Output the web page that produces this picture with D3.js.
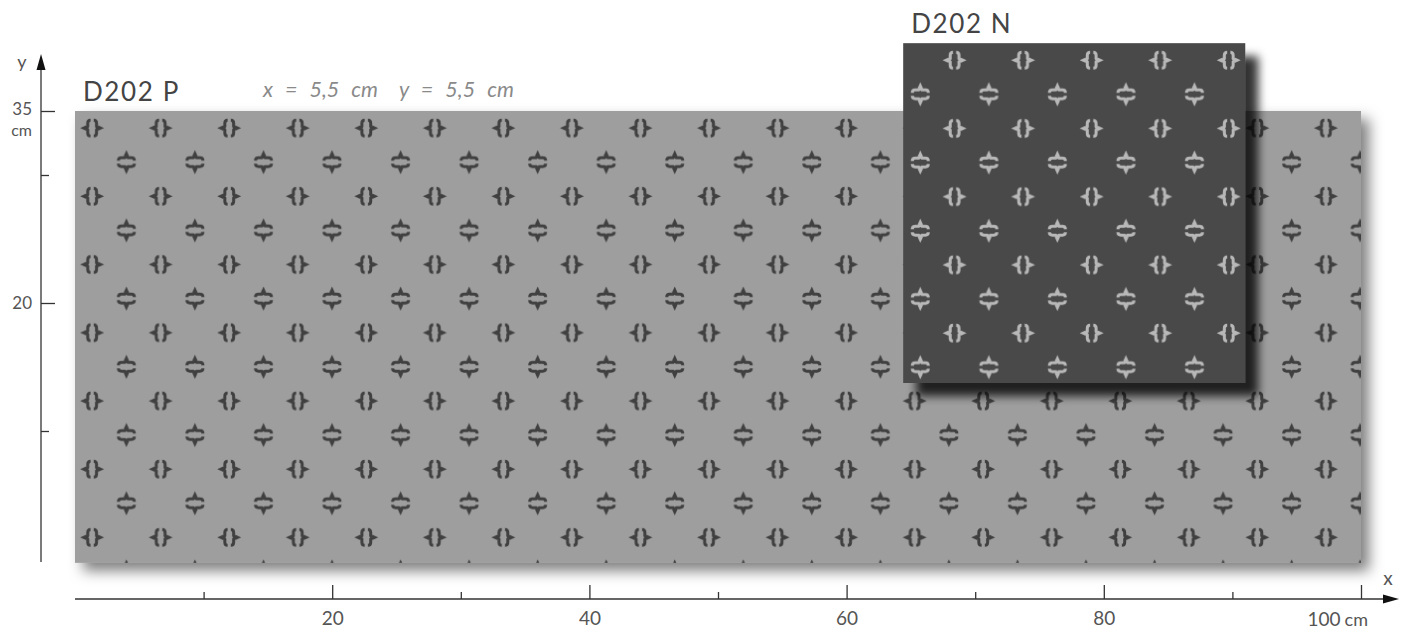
<!DOCTYPE html>
<html><head><meta charset="utf-8">
<script src="https://cdn.jsdelivr.net/npm/d3@7"></script>
<style>html,body{margin:0;padding:0;background:#fff;} svg{display:block;}</style>
</head><body>
<svg id="chart" width="1407" height="633"></svg>
<script>
// ---------------- data (cm) ----------------
const panelNames = ["D202 P", "D202 N"];
const panelX0 = [0, 64.4];
const panelX1 = [100, 91.0];
const panelY0 = [-0.3, 13.75];
const panelY1 = [35, 40.3];
const motifPhaseX = [0, 0.5];          // horizontal phase of motif grid (fraction of repeat)
const repeatX = 5.33, repeatY = 5.33;  // motif repeat as measured on the picture
const repeatLabels = ["x = 5,5 cm", "y = 5,5 cm"];
const xTicksMajor = [20, 40, 60, 80, 100];
const xTicksMinor = [10, 30, 50, 70, 90];
const yTicksMajor = [35, 20];
const yTicksMinor = [30, 10];

// ---------------- setup ----------------
const svg = d3.select("#chart");
const x = d3.scaleLinear().domain([0, 100]).range([75, 1361]);
const y = d3.scaleLinear().domain([0, 35]).range([559, 111]);

const panelFill = ["#9e9e9e", "#4a4a4a"];
const motifFill = ["#414141", "#b8b8b8"];
const shadow = [{dx: 8, dy: 8, sd: 7, op: 0.5}, {dx: 13, dy: 13, sd: 5, op: 0.8}];

const defs = svg.append("defs");
defs.append("filter").attr("id", "soft").attr("x", "-30%").attr("y", "-30%").attr("width", "160%").attr("height", "160%")
  .append("feGaussianBlur").attr("stdDeviation", 0.55);
shadow.forEach((s, i) => {
  defs.append("filter").attr("id", "shadow" + i)
    .attr("x", "-10%").attr("y", "-10%").attr("width", "130%").attr("height", "130%")
    .append("feDropShadow").attr("dx", s.dx).attr("dy", s.dy).attr("stdDeviation", s.sd)
    .attr("flood-color", "#000").attr("flood-opacity", s.op);
});

// motif: "◂{ }▸" ; second motif is the same rotated 90°
const bracePath = "M-1.6,-8 Q-4.4,-8 -4.4,-5 L-4.4,-1.6 L-6.2,0 L-4.4,1.6 L-4.4,5 Q-4.4,8 -1.6,8";
function drawMotif(g, cx, cy, rot, color) {
  const m = g.append("g").attr("transform", `translate(${cx},${cy}) rotate(${rot})`);
  m.append("path").attr("d", bracePath).attr("fill", "none").attr("stroke", color).attr("stroke-width", 3);
  m.append("path").attr("d", bracePath).attr("transform", "scale(-1,1)").attr("fill", "none").attr("stroke", color).attr("stroke-width", 3);
  m.append("path").attr("d", "M-12,0 L-6,-2.8 L-6,2.8Z").attr("fill", color);
  m.append("path").attr("d", "M12,0 L6,-2.8 L6,2.8Z").attr("fill", color);
}

panelNames.forEach((name, i) => {
  const pw = x(repeatX) - x(0), ph = y(0) - y(repeatY);
  const pat = defs.append("pattern").attr("id", "pat" + i).attr("patternUnits", "userSpaceOnUse")
    .attr("x", x(panelX0[i])).attr("y", y(panelY1[i])).attr("width", pw).attr("height", ph);
  pat.append("rect").attr("width", pw).attr("height", ph).attr("fill", panelFill[i]);
  const g = pat.append("g").attr("filter", "url(#soft)");
  const ph0 = motifPhaseX[i];
  drawMotif(g, ((0.25 + ph0) % 1) * pw, 0.25 * ph, 0, motifFill[i]);
  drawMotif(g, ((0.75 + ph0) % 1) * pw, 0.75 * ph, 90, motifFill[i]);
});

// ---------------- panels ----------------
const idx = panelNames.map((d, i) => i);
svg.selectAll("rect.panel").data(idx).join("rect").attr("class", "panel")
  .attr("x", i => x(panelX0[i])).attr("y", i => y(panelY1[i]))
  .attr("width", i => x(panelX1[i]) - x(panelX0[i]))
  .attr("height", i => y(panelY0[i]) - y(panelY1[i]))
  .attr("fill", i => `url(#pat${i})`)
  .attr("filter", i => `url(#shadow${i})`);

svg.selectAll("text.ptitle").data(idx).join("text").attr("class", "ptitle")
  .attr("x", i => x(panelX0[i]) + 8).attr("y", i => y(panelY1[i]) - 10)
  .attr("font-family", "Lato, 'Open Sans', sans-serif").attr("font-size", 26)
  .attr("letter-spacing", 1.6).attr("fill", "#444").text(i => panelNames[i]);

svg.selectAll("text.rep").data(repeatLabels).join("text").attr("class", "rep")
  .attr("x", (d, i) => [263, 399][i]).attr("y", 96.5)
  .attr("font-family", "Lato, 'Open Sans', sans-serif").attr("font-style", "italic")
  .attr("font-size", 21.5).attr("fill", "#8a8a8a")
  .attr("word-spacing", 7).text(d => d);

// ---------------- axes ----------------
const axisColor = "#333";
const fontAxis = "Lato, 'Open Sans', sans-serif";
const xAxisY = 599, yAxisX = 41;

const gx = svg.append("g").attr("transform", `translate(0,${xAxisY})`);
gx.call(d3.axisBottom(x).tickValues(xTicksMajor).tickSizeInner(-14).tickSizeOuter(0).tickPadding(13)
  .tickFormat(d => d === 100 ? "" : d));
gx.append("g").call(d3.axisBottom(x).tickValues(xTicksMinor).tickSizeInner(-7).tickSizeOuter(0).tickFormat(""));
gx.selectAll(".domain").remove();
gx.selectAll("line").attr("stroke", axisColor).attr("stroke-width", 1.3);
gx.selectAll("text").attr("font-family", fontAxis).attr("font-size", 19).attr("fill", "#555");
svg.append("line").attr("x1", x(0)).attr("x2", 1388).attr("y1", xAxisY).attr("y2", xAxisY)
  .attr("stroke", axisColor).attr("stroke-width", 1.3);
svg.append("path").attr("d", `M1399,${xAxisY} L1383,${xAxisY - 4.5} L1383,${xAxisY + 4.5}Z`).attr("fill", "#111");
const t100 = svg.append("text").attr("x", 1368).attr("y", 626).attr("text-anchor", "end")
  .attr("font-family", fontAxis).attr("font-size", 19).attr("fill", "#555");
t100.append("tspan").text("100");
t100.append("tspan").attr("dx", 4).attr("font-size", 18).text("cm");
svg.append("text").attr("x", 1388).attr("y", 585).attr("text-anchor", "middle")
  .attr("font-family", fontAxis).attr("font-size", 19).attr("fill", "#555").text("x");

const gy = svg.append("g").attr("transform", `translate(${yAxisX},0)`);
gy.call(d3.axisLeft(y).tickValues(yTicksMajor).tickSizeInner(-14).tickSizeOuter(0).tickPadding(9));
gy.append("g").call(d3.axisLeft(y).tickValues(yTicksMinor).tickSizeInner(-8).tickSizeOuter(0).tickFormat(""));
gy.selectAll(".domain").remove();
gy.selectAll("line").attr("stroke", axisColor).attr("stroke-width", 1.3);
gy.selectAll("text").attr("font-family", fontAxis).attr("font-size", 17).attr("fill", "#555");
gy.selectAll(".tick text").filter(d => d === 35).attr("dy", "0.2em");
svg.append("line").attr("x1", yAxisX).attr("x2", yAxisX).attr("y1", 562).attr("y2", 62)
  .attr("stroke", axisColor).attr("stroke-width", 1.3);
svg.append("path").attr("d", `M${yAxisX},54 L${yAxisX - 4.5},70 L${yAxisX + 4.5},70Z`).attr("fill", "#111");
svg.append("text").attr("x", yAxisX - 9).attr("y", y(35) + 25).attr("text-anchor", "end")
  .attr("font-family", fontAxis).attr("font-size", 16).attr("fill", "#555").text("cm");
svg.append("text").attr("x", 22).attr("y", 68).attr("text-anchor", "middle")
  .attr("font-family", fontAxis).attr("font-size", 18).attr("fill", "#555").text("y");
</script>
</body></html>
